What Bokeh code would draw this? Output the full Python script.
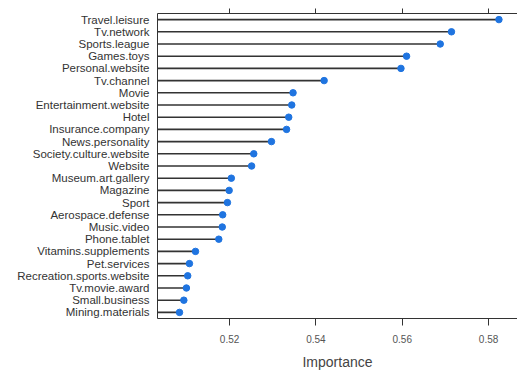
from bokeh.plotting import figure
from bokeh.models import Range1d, FactorRange, LinearAxis, FixedTicker
from bokeh.embed import file_html
from bokeh.resources import INLINE

categories = ["Travel.leisure", "Tv.network", "Sports.league", "Games.toys", "Personal.website",
              "Tv.channel", "Movie", "Entertainment.website", "Hotel", "Insurance.company",
              "News.personality", "Society.culture.website", "Website", "Museum.art.gallery",
              "Magazine", "Sport", "Aerospace.defense", "Music.video", "Phone.tablet",
              "Vitamins.supplements", "Pet.services", "Recreation.sports.website",
              "Tv.movie.award", "Small.business", "Mining.materials"]
importance = [0.5824, 0.5714, 0.5688, 0.5610, 0.5597,
              0.5419, 0.5347, 0.5344, 0.5337, 0.5332,
              0.5297, 0.5256, 0.5251, 0.5204,
              0.5199, 0.5195, 0.5184, 0.5183, 0.5175,
              0.5121, 0.5107, 0.5103,
              0.5100, 0.5094, 0.5084]
x_ticks = [0.52, 0.54, 0.56, 0.58]

x_start = 0.5033
x_end = 0.5867

p = figure(width=517, height=372, output_backend="svg", toolbar_location=None,
           x_range=Range1d(x_start, x_end),
           y_range=FactorRange(factors=list(reversed(categories)), range_padding=0),
           x_axis_location="below",
           min_border_left=157, min_border_right=0, min_border_top=13, min_border_bottom=53)
p.background_fill_color = "white"
p.border_fill_color = "white"
p.outline_line_color = None
p.xgrid.grid_line_color = None
p.ygrid.grid_line_color = None

p.segment(x0=[x_start] * len(categories), y0=categories, x1=importance, y1=categories,
          line_color="#333333", line_width=1.6)
p.scatter(x=importance, y=categories, size=6.5, fill_color="#1f74e0", line_color="#1f74e0")

xa = p.xaxis[0]
xa.ticker = FixedTicker(ticks=x_ticks)
xa.axis_line_color = "#333333"
xa.major_tick_line_color = "#333333"
xa.major_tick_out = 7
xa.major_tick_in = 0
xa.minor_tick_line_color = None
xa.major_label_text_font = "Liberation Sans"
xa.major_label_text_font_size = "10px"
xa.major_label_text_color = "#555555"
xa.major_label_standoff = 9
xa.axis_label = "Importance"
xa.axis_label_text_font = "Liberation Sans"
xa.axis_label_text_font_style = "normal"
xa.axis_label_text_font_size = "14px"
xa.axis_label_text_color = "#444444"
xa.axis_label_standoff = 8

top = LinearAxis(ticker=FixedTicker(ticks=x_ticks))
top.axis_line_color = "#333333"
top.major_tick_line_color = "#333333"
top.major_tick_out = 5
top.major_tick_in = 0
top.minor_tick_line_color = None
top.major_label_overrides = {t: "" for t in x_ticks}
top.major_label_standoff = 0
p.add_layout(top, "above")

ya = p.yaxis[0]
ya.axis_line_color = "#333333"
ya.major_tick_line_color = None
ya.major_tick_out = 0
ya.major_tick_in = 0
ya.minor_tick_line_color = None
ya.major_label_text_font = "Liberation Sans"
ya.major_label_text_font_size = "11.5px"
ya.major_label_text_color = "#333333"
ya.major_label_standoff = 8

open("out.html", "w").write(file_html(p, INLINE))
